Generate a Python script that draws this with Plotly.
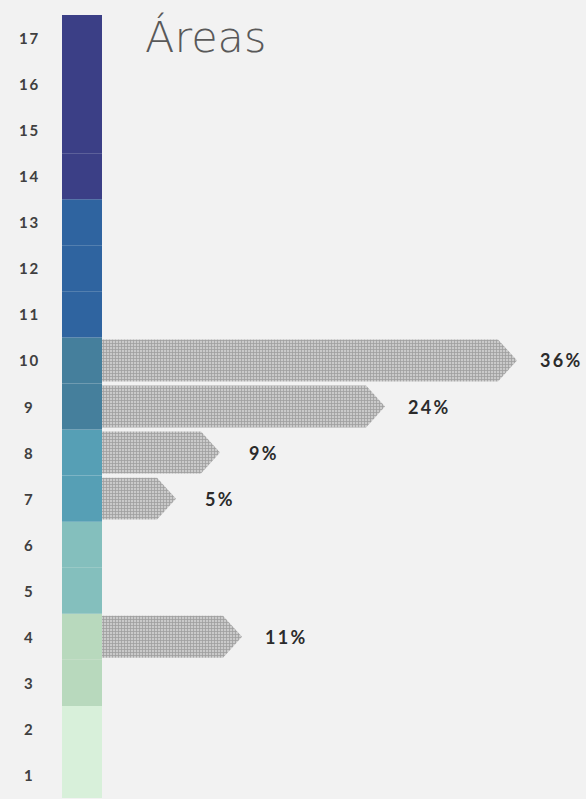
import plotly.graph_objects as go

# ---- data ----
categories = list(range(1, 18))
tick_labels = [str(c) for c in categories]
column_colors = (["#d8f0da"] * 2 + ["#b8d9bd"] * 2 + ["#84bfbd"] * 2 +
                 ["#569fb5"] * 2 + ["#457f9c"] * 2 + ["#2f64a0"] * 3 + ["#3b3f86"] * 4)
bar_categories = [10, 9, 8, 7, 4]
bar_values = [36, 24, 9, 5, 11]
bar_labels = ["36%", "24%", "9%", "5%", "11%"]
title_text = "Áreas"


def spaced(s):
    # letter-spaced display (thin spaces between characters)
    return "\u2009".join(s)


# ---- layout constants ----
W, H = 586, 799
PX_PER_UNIT = 11.0
ZERO_PX = 102
COL_W = 40 / PX_PER_UNIT
TIP = 19 / PX_PER_UNIT
HALF = 0.455
x0 = -ZERO_PX / PX_PER_UNIT
x1 = (W - ZERO_PX) / PX_PER_UNIT
unit_y = (775 - 38) / 16
y_top = 17 + 38 / unit_y
y_bot = 1 - (H - 775) / unit_y

fig = go.Figure()

# colored column
fig.add_trace(go.Bar(
    y=categories, x=[COL_W] * len(categories), base=[-COL_W] * len(categories),
    orientation="h", width=1.0, marker=dict(color=column_colors, line=dict(width=0)),
    hoverinfo="skip", showlegend=False))

# arrow bars
for cat, val in zip(bar_categories, bar_values):
    xs = [0, val, val + TIP, val, 0, 0]
    ys = [cat - HALF, cat - HALF, cat, cat + HALF, cat + HALF, cat - HALF]
    fig.add_trace(go.Scatter(
        x=xs, y=ys, mode="lines", fill="toself", line=dict(width=0, color="rgba(0,0,0,0)"),
        fillcolor="#b4b4b4",
        fillpattern=dict(shape="+", size=3, solidity=0.45, fgcolor="#707070", bgcolor="#cacaca"),
        hoverinfo="skip", showlegend=False))

annotations = []
for cat, val, lab in zip(bar_categories, bar_values, bar_labels):
    annotations.append(dict(x=val + TIP, y=cat, text=spaced(lab), showarrow=False, xanchor="center",
                            xshift=43, yanchor="middle",
                            font=dict(family="Lato", size=18, color="#2b2b2b", weight="bold")))
for cat, lab in zip(categories, tick_labels):
    annotations.append(dict(x=(28.5 - ZERO_PX) / PX_PER_UNIT, y=cat, text=spaced(lab), showarrow=False,
                            xanchor="center", yanchor="middle",
                            font=dict(family="Lato", size=15, color="#404040", weight="bold")))
annotations.append(dict(x=143 / W, y=1 - 10 / H, xref="paper", yref="paper", text=title_text,
                        showarrow=False, xanchor="left", yanchor="top",
                        font=dict(family="DejaVu Sans", size=43, color="#595959", weight=200)))

fig.update_layout(
    width=W, height=H, margin=dict(l=0, r=0, t=0, b=0),
    paper_bgcolor="#f2f2f2", plot_bgcolor="#f2f2f2",
    xaxis=dict(range=[x0, x1], visible=False, fixedrange=True),
    yaxis=dict(range=[y_bot, y_top], visible=False, fixedrange=True),
    annotations=annotations, barmode="overlay", showlegend=False)

fig.write_html("out.html")
